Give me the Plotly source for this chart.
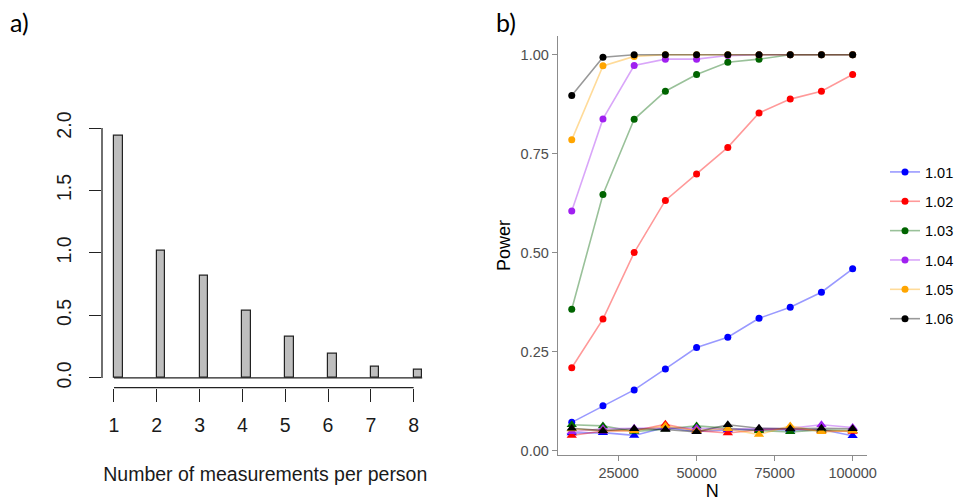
import plotly.graph_objects as go

W, H = 960, 501

# ---------------- data ----------------
measurements = [1, 2, 3, 4, 5, 6, 7, 8]
measure_vals = [1.94, 1.02, 0.82, 0.54, 0.33, 0.19, 0.09, 0.065]

N = [10000, 20000, 30000, 40000, 50000, 60000, 70000, 80000, 90000, 100000]
effects = ["1.01", "1.02", "1.03", "1.04", "1.05", "1.06"]
colors = ["#0000FF", "#FF0000", "#006400", "#A020F0", "#FFA500", "#000000"]
line_colors = ["rgba(0,0,255,0.4)", "rgba(255,0,0,0.4)", "rgba(0,100,0,0.4)",
               "rgba(160,32,240,0.4)", "rgba(255,165,0,0.4)", "rgba(0,0,0,0.4)"]

power_101 = [0.071, 0.113, 0.153, 0.206, 0.260, 0.286, 0.334, 0.362, 0.400, 0.459]
power_102 = [0.209, 0.332, 0.500, 0.632, 0.699, 0.766, 0.853, 0.888, 0.908, 0.950]
power_103 = [0.357, 0.647, 0.837, 0.908, 0.950, 0.981, 0.989, 1.000, 1.000, 1.000]
power_104 = [0.605, 0.838, 0.973, 0.989, 0.989, 0.998, 1.000, 1.000, 1.000, 1.000]
power_105 = [0.785, 0.972, 0.996, 1.000, 1.000, 1.000, 1.000, 1.000, 1.000, 1.000]
power_106 = [0.897, 0.994, 1.000, 1.000, 1.000, 1.000, 1.000, 1.000, 1.000, 1.000]

null_101 = [0.044, 0.045, 0.038, 0.058, 0.048, 0.052, 0.053, 0.052, 0.053, 0.037]
null_102 = [0.038, 0.049, 0.050, 0.066, 0.050, 0.044, 0.052, 0.055, 0.050, 0.048]
null_103 = [0.065, 0.062, 0.048, 0.054, 0.062, 0.056, 0.050, 0.047, 0.052, 0.050]
null_104 = [0.047, 0.055, 0.056, 0.057, 0.056, 0.054, 0.055, 0.056, 0.065, 0.058]
null_105 = [0.054, 0.050, 0.050, 0.062, 0.050, 0.055, 0.040, 0.062, 0.047, 0.050]
null_106 = [0.056, 0.050, 0.055, 0.053, 0.047, 0.065, 0.056, 0.055, 0.056, 0.055]

power_series = [power_101, power_102, power_103, power_104, power_105, power_106]
null_series = [null_101, null_102, null_103, null_104, null_105, null_106]

left_yticks = [0, 0.5, 1.0, 1.5, 2.0]
left_yticktext = ["0.0", "0.5", "1.0", "1.5", "2.0"]
right_xticks = [25000, 50000, 75000, 100000]
right_xticktext = ["25000", "50000", "75000", "100000"]
right_yticks = [0.0, 0.25, 0.5, 0.75, 1.0]
right_yticktext = ["0.00", "0.25", "0.50", "0.75", "1.00"]

# ---------------- figure ----------------
fig = go.Figure()

RF = "Liberation Sans, Arial, sans-serif"

# Panel a) bars (offset to the right of each tick, R style)
fig.add_trace(go.Bar(
    x=[m + 0.1 for m in measurements], y=measure_vals, width=0.2,
    marker=dict(color="#bebebe", line=dict(color="#222222", width=1.2)),
    xaxis="x", yaxis="y", showlegend=False, hoverinfo="skip"))

# Panel b) power curves
for i, e in enumerate(effects):
    fig.add_trace(go.Scatter(
        x=N, y=power_series[i], mode="lines+markers", name=e,
        line=dict(color=line_colors[i], width=1.6),
        marker=dict(color=colors[i], size=7, symbol="circle"),
        xaxis="x2", yaxis="y2", legendgroup=e, showlegend=True))
for i, e in enumerate(effects):
    fig.add_trace(go.Scatter(
        x=N, y=null_series[i], mode="lines+markers", name=e,
        line=dict(color=line_colors[i], width=1.6),
        marker=dict(color=colors[i], size=9, symbol="triangle-up"),
        xaxis="x2", yaxis="y2", legendgroup=e, showlegend=False))

dx1 = [102 / W, 428.6 / W]
dy1 = [(H - 387.7) / H, (H - 121.75) / H]
dx2 = [557.7 / W, 866.7 / W]
dy2 = [(H - 455) / H, (H - 36) / H]

fig.update_layout(
    width=W, height=H,
    margin=dict(l=0, r=0, t=0, b=0, autoexpand=False),
    paper_bgcolor="white", plot_bgcolor="white",
    font=dict(family=RF, color="#1a1a1a"),
    bargap=0,
    xaxis=dict(domain=dx1, range=[0.72, 8.35], tickvals=measurements,
               ticks="outside", ticklen=13, tickwidth=1.3, tickcolor="#222",
               showline=False, showgrid=False, zeroline=False, automargin=False,
               ticklabelstandoff=7,
               tickfont=dict(size=19.5, color="#1a1a1a", family=RF),
               title=dict(text="Number of measurements per person",
                          font=dict(size=19.5, color="#1a1a1a", family=RF), standoff=32)),
    yaxis=dict(domain=dy1, range=[-0.078, 2.05], tickvals=left_yticks, ticktext=left_yticktext,
               ticks="outside", ticklen=12, tickwidth=1.3, tickcolor="#222",
               showline=False, showgrid=False, zeroline=False, tickangle=-90, automargin=False,
               ticklabelstandoff=10,
               tickfont=dict(size=19.5, color="#1a1a1a", family=RF)),
    xaxis2=dict(domain=dx2, range=[5500, 104500], tickvals=right_xticks, ticktext=right_xticktext,
                ticks="outside", ticklen=5, tickwidth=1, tickcolor="#8c8c8c",
                showline=True, linecolor="#8c8c8c", linewidth=1, automargin=False,
                showgrid=False, zeroline=False, anchor="y2",
                tickfont=dict(size=14.5, color="#4d4d4d", family=RF),
                title=dict(text="N", font=dict(size=18, color="#000", family=RF), standoff=6)),
    yaxis2=dict(domain=dy2, range=[-0.0115, 1.0475], tickvals=right_yticks, ticktext=right_yticktext,
                ticks="outside", ticklen=5, tickwidth=1, tickcolor="#8c8c8c",
                showline=True, linecolor="#8c8c8c", linewidth=1, automargin=False,
                showgrid=False, zeroline=False, anchor="x2",
                tickfont=dict(size=14.5, color="#4d4d4d", family=RF),
                title=dict(text="Power", font=dict(size=18, color="#000", family=RF), standoff=5)),
    legend=dict(x=885 / W, y=(H - 156) / H, xanchor="left", yanchor="top",
                font=dict(size=14.5, color="#000", family=RF),
                bgcolor="rgba(0,0,0,0)", tracegroupgap=7.5, traceorder="grouped",
                itemwidth=30),
    shapes=[
        # R-style detached y axis line (0 .. 2)
        dict(type="line", xref="x domain", yref="y", x0=0, x1=0, y0=0, y1=2,
             line=dict(color="#222", width=1.3)),
        # R-style x axis line (1 .. 8)
        dict(type="line", xref="x", yref="y domain", x0=1, x1=8, y0=0, y1=0,
             line=dict(color="#222", width=1.3)),
        # bar baseline
        dict(type="line", xref="x", yref="y", x0=1, x1=8.2, y0=0, y1=0,
             line=dict(color="#222", width=1.2)),
    ],
    annotations=[
        dict(text="a)", x=8 / W, y=(H - 22) / H, xref="paper", yref="paper",
             xanchor="left", yanchor="middle", showarrow=False,
             font=dict(family="Lato, Open Sans, sans-serif", size=25, color="#000")),
        dict(text="b)", x=494 / W, y=(H - 22) / H, xref="paper", yref="paper",
             xanchor="left", yanchor="middle", showarrow=False,
             font=dict(family="Lato, Open Sans, sans-serif", size=25, color="#000")),
    ],
)

fig.write_html("out.html")
